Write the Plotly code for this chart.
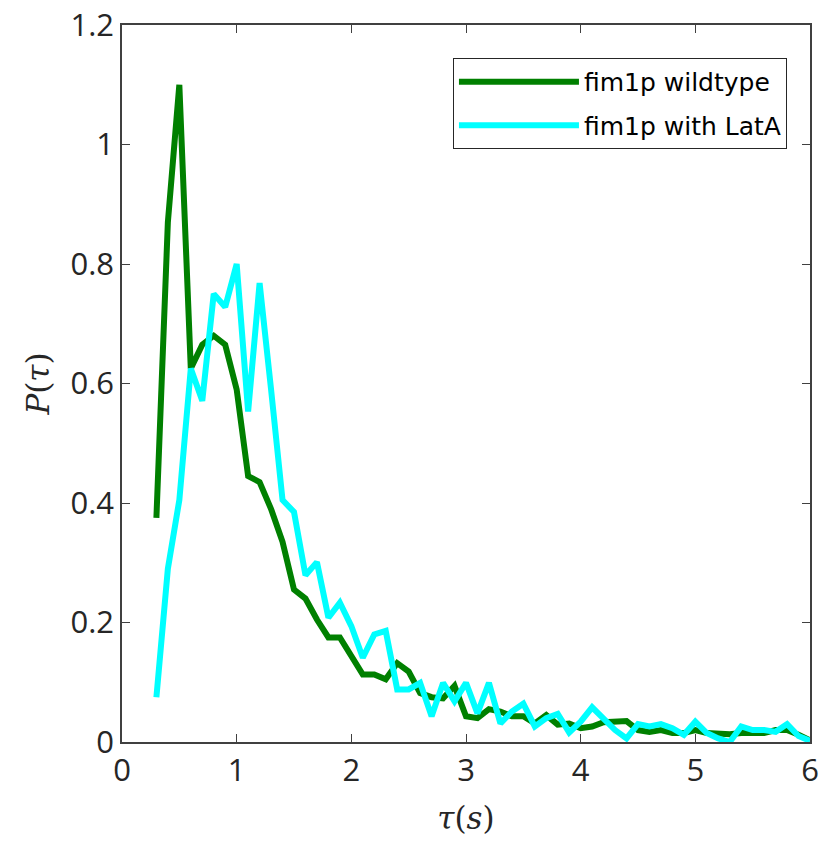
import plotly.graph_objects as go

tau = [0.3, 0.4, 0.5, 0.6, 0.7, 0.8, 0.9, 1.0, 1.1, 1.2, 1.3, 1.4, 1.5, 1.6, 1.7, 1.8, 1.9,
       2.0, 2.1, 2.2, 2.3, 2.4, 2.5, 2.6, 2.7, 2.8, 2.9, 3.0, 3.1, 3.2, 3.3, 3.4, 3.5, 3.6,
       3.7, 3.8, 3.9, 4.0, 4.1, 4.2, 4.3, 4.4, 4.5, 4.6, 4.7, 4.8, 4.9, 5.0, 5.1, 5.2, 5.3,
       5.4, 5.5, 5.6, 5.7, 5.8, 5.9, 6.0]

wildtype = [0.375, 0.87, 1.10, 0.625, 0.665, 0.68, 0.665, 0.59, 0.445, 0.435, 0.39, 0.335,
            0.255, 0.24, 0.205, 0.175, 0.175, 0.145, 0.113, 0.113, 0.105, 0.132, 0.118, 0.082,
            0.075, 0.073, 0.094, 0.043, 0.040, 0.055, 0.051, 0.043, 0.043, 0.031, 0.045, 0.029,
            0.031, 0.023, 0.026, 0.033, 0.035, 0.035, 0.020, 0.017, 0.020, 0.015, 0.015, 0.020,
            0.015, 0.014, 0.013, 0.015, 0.015, 0.015, 0.020, 0.020, 0.012, 0.003]

lata = [0.075, 0.29, 0.405, 0.625, 0.571, 0.75, 0.728, 0.80, 0.553, 0.768, 0.59, 0.405,
        0.385, 0.279, 0.301, 0.208, 0.233, 0.194, 0.141, 0.180, 0.186, 0.088, 0.088, 0.099,
        0.043, 0.099, 0.068, 0.099, 0.048, 0.099, 0.031, 0.051, 0.064, 0.026, 0.040, 0.047,
        0.016, 0.034, 0.058, 0.040, 0.020, 0.006, 0.030, 0.026, 0.030, 0.023, 0.012, 0.034,
        0.015, 0.006, 0.000, 0.026, 0.020, 0.020, 0.017, 0.030, 0.010, 0.002]

series_names = ["fim1p wildtype", "fim1p with LatA"]
series_colors = ["#008000", "#00FFFF"]

x_ticks = [0, 1, 2, 3, 4, 5, 6]
y_ticks = [0, 0.2, 0.4, 0.6, 0.8, 1, 1.2]
y_tick_labels = ["0", "0.2", "0.4", "0.6", "0.8", "1", "1.2"]

fig = go.Figure()
for name, ys, col in zip(series_names, [wildtype, lata], series_colors):
    fig.add_trace(go.Scatter(x=tau, y=ys, mode="lines", name=name, legendgroup=name,
                             line=dict(color=col, width=6)))

axis_common = dict(showline=True, linecolor="#404040", linewidth=1.5, mirror="ticks",
                   ticks="inside", ticklen=8, tickcolor="#404040", tickwidth=1.3,
                   showgrid=False, zeroline=False, ticklabeloverflow="allow",
                   automargin=False,
                   tickfont=dict(family="Open Sans", size=31, color="#262626"))

fig.update_layout(
    width=822, height=842,
    margin=dict(l=122, r=12, t=25, b=100),
    plot_bgcolor="white", paper_bgcolor="white",
    xaxis=dict(range=[0, 6], tickvals=x_ticks, **axis_common,
               title=dict(text="<i>τ</i>(<i>s</i>)", standoff=18,
                          font=dict(family="DejaVu Serif", size=31, color="#262626"))),
    yaxis=dict(range=[0, 1.2], tickvals=y_ticks, ticktext=y_tick_labels, **axis_common,
               title=dict(text="<i>P</i>(<i>τ</i>)", standoff=12,
                          font=dict(family="DejaVu Serif", size=31, color="#262626"))),
    legend=dict(x=0.9665, xanchor="right", y=0.954, yanchor="top",
                bgcolor="white", bordercolor="#262626", borderwidth=1,
                font=dict(family="DejaVu Sans", size=25, color="black"),
                itemwidth=120, tracegroupgap=8),
    showlegend=True,
)

fig.write_html("out.html", config={"displayModeBar": False},
               post_script="document.body.style.margin='0';document.body.style.overflow='hidden';")
